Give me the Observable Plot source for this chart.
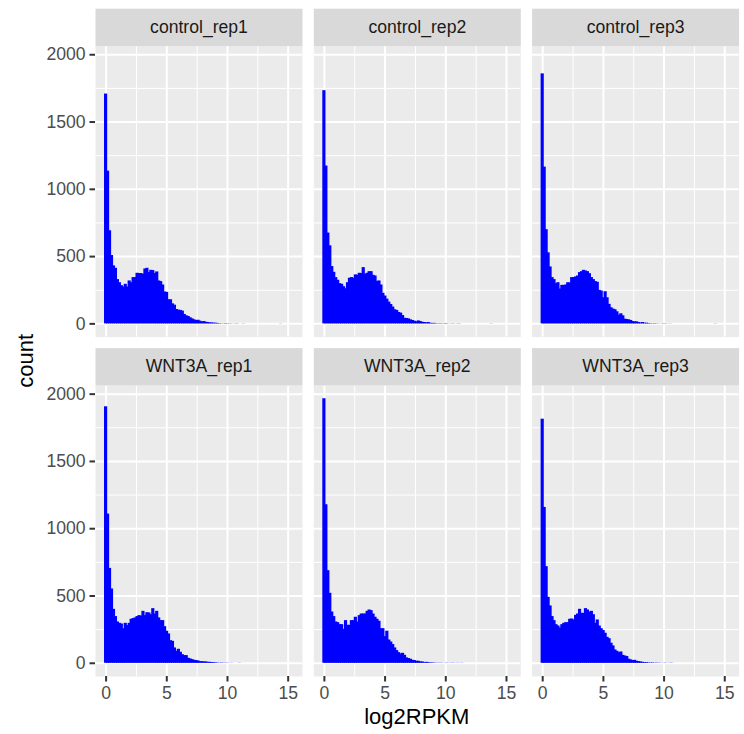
<!DOCTYPE html>
<html><head><meta charset="utf-8">
<script src="https://cdn.jsdelivr.net/npm/d3@7"></script>
<script src="https://cdn.jsdelivr.net/npm/@observablehq/plot@0.6"></script>
<style>
body{margin:0;background:#fff;}
#chart{position:relative;width:744px;height:734px;}
</style>
</head><body><div id="chart"></div>
<script>
// ---- data ----
const panelNames = ["control_rep1","control_rep2","control_rep3","WNT3A_rep1","WNT3A_rep2","WNT3A_rep3"];
const panelGroups = ["control","control","control","WNT3A","WNT3A","WNT3A"];
const panelReps = ["rep1","rep2","rep3","rep1","rep2","rep3"];
const binWidth = 0.162; // log2RPKM units per histogram bin, bins centred on 0

const controlRep1 = [1708,1135,692,508,431,413,329,306,284,274,
  294,274,319,306,344,344,376,374,374,369,
  408,413,381,398,396,374,386,319,314,289,
  237,234,179,179,149,139,107,102,100,95,
  70,60,55,45,37,30,25,27,20,15,
  17,12,10,7,7,5,5,3,2,1,
  1,2,1,1,1,0,1,1,0,0,1,
  0,0,0,0,0,0,0,0,0,0,0,0,0,0,0,0,0,0,1];
const controlRep2 = [1733,1173,675,580,426,383,344,324,299,294,
  276,261,306,339,344,339,364,361,376,374,
  418,369,376,388,388,361,356,316,319,289,
  227,207,184,162,144,125,105,100,85,80,
  62,42,40,37,30,25,20,15,22,17,
  12,10,7,10,5,3,4,2,1,2,
  1,1,2,1,0,1,1,0,1,1,
  0,0,0,0,0,0,0,0,0,0,0,0,0,0,0,1];
const controlRep3 = [1858,1165,700,528,423,344,329,299,306,259,
  286,286,289,306,304,344,344,349,356,381,
  388,398,393,388,373,344,329,314,309,249,
  244,194,239,194,145,120,110,105,90,65,
  75,60,35,32,30,25,17,15,15,10,
  7,10,5,5,3,2,1,
  2,1,1,0,1,1,1,0,1,
  0,0,0,0,0,0,0,0,0,0,0,0,0,0,0,0,0,0,0,0,0,0,1];
const wnt3aRep1 = [1906,1109,705,552,401,347,307,297,292,257,
  297,280,297,327,332,337,347,354,351,386,
  354,376,374,361,406,366,386,337,317,317,
  272,238,218,168,163,114,89,104,82,64,
  57,57,37,32,27,22,20,17,12,12,
  10,10,7,7,5,5,3,2,1,2,
  1,1,1,0,1,0,0,0,1];
const wnt3aRep2 = [1966,1178,688,520,381,347,307,302,287,287,
  252,317,282,282,317,317,342,307,354,366,
  366,366,386,396,391,366,342,327,312,257,
  257,198,238,173,158,139,114,94,79,69,
  74,59,40,35,30,22,20,15,15,10,
  10,5,7,5,3,3,2,1,
  1,1,1,0,1,1,0,1,1,0,1,0,1];
const wnt3aRep3 = [1814,1158,718,490,426,347,317,287,277,262,
  287,297,302,302,327,329,322,356,366,401,
  371,371,406,396,381,386,361,297,322,277,
  257,243,223,193,183,149,129,99,89,79,
  84,59,54,50,30,25,20,22,15,12,
  10,7,5,5,3,2,3,1,2,
  1,1,0,1,1,0,1,1];

const xTicks = [0, 5, 10, 15];
const xMinor = [2.5, 7.5, 12.5];
const yTicks = [0, 500, 1000, 1500, 2000];
const yMinor = [250, 750, 1250, 1750];

// ---- build tables ----
const panelCounts = [controlRep1, controlRep2, controlRep3, wnt3aRep1, wnt3aRep2, wnt3aRep3];
const bars = [];
panelCounts.forEach((arr, p) => arr.forEach((c, i) => {
  if (c > 0) bars.push({panel: panelNames[p], group: panelGroups[p], rep: panelReps[p],
    x1: (i - 0.5) * binWidth, x2: (i + 0.5) * binWidth, count: c});
}));
const strips = panelNames.map((n, p) => ({panel: n, group: panelGroups[p], rep: panelReps[p]}));

const yMax = d3.max(bars, d => d.count);
const FONT = "Liberation Sans, Arial, Helvetica, sans-serif";
const W = 744, H = 734;
const mL = 95, mR = 5.4, mT = 45.6, mB = 58;
const stripH = 37.4;
const panelH = 291;

const chart = Plot.plot({
  width: W, height: H,
  marginLeft: mL, marginRight: mR, marginTop: mT, marginBottom: mB,
  style: {fontFamily: FONT, background: "#ffffff", overflow: "visible"},
  x: {domain: [-0.873, 16.18], label: null},
  y: {domain: [-0.05 * yMax, 1.05 * yMax], label: null},
  fx: {domain: ["rep1","rep2","rep3"], paddingInner: 0.05176, paddingOuter: 0, round: false, axis: null, label: null},
  fy: {domain: ["control","WNT3A"], paddingInner: 0.1426, paddingOuter: 0, round: false, axis: null, label: null},
  marks: [
    Plot.frame({fill: "#EBEBEB", stroke: null}),
    Plot.ruleX(xMinor, {stroke: "#ffffff", strokeWidth: 1}),
    Plot.ruleY(yMinor, {stroke: "#ffffff", strokeWidth: 1}),
    Plot.ruleX(xTicks, {stroke: "#ffffff", strokeWidth: 2}),
    Plot.ruleY(yTicks, {stroke: "#ffffff", strokeWidth: 2}),
    Plot.rect(bars, {fx: "rep", fy: "group", x1: "x1", x2: "x2", y1: 0, y2: "count", fill: "#0000FF",
      insetLeft: -0.6, insetRight: -0.6}),
    Plot.frame({fill: "#D9D9D9", stroke: null, insetTop: -stripH, insetBottom: panelH}),
    Plot.text(strips, {fx: "rep", fy: "group", text: "panel", frameAnchor: "top", dy: -stripH / 2,
      fontSize: 17.6, fill: "#1A1A1A", lineAnchor: "middle"}),
    Plot.axisX({ticks: xTicks, tickSize: 5.5, tickPadding: 4.4, fontSize: 17.6, stroke: "#333333",
      fill: "#4D4D4D", strokeWidth: 2, tickFormat: d => String(d), label: null}),
    Plot.axisY({ticks: yTicks, tickSize: 5.5, tickPadding: 4.4, fontSize: 17.6, stroke: "#333333",
      fill: "#4D4D4D", strokeWidth: 2, tickFormat: d => String(d), label: null})
  ]
});

const svg = d3.select(chart.tagName.toLowerCase() === "svg" ? chart : chart.querySelector("svg"));
svg.append("text")
  .attr("x", (mL + (W - mR)) / 2).attr("y", 724)
  .attr("text-anchor", "middle").attr("font-size", 22).attr("fill", "#000000")
  .attr("font-family", FONT).text("log2RPKM");
svg.append("text")
  .attr("transform", "translate(33," + 360.8 + ") rotate(-90)")
  .attr("text-anchor", "middle").attr("font-size", 22).attr("fill", "#000000")
  .attr("font-family", FONT).text("count");

document.getElementById("chart").appendChild(chart);
</script>
</body></html>
